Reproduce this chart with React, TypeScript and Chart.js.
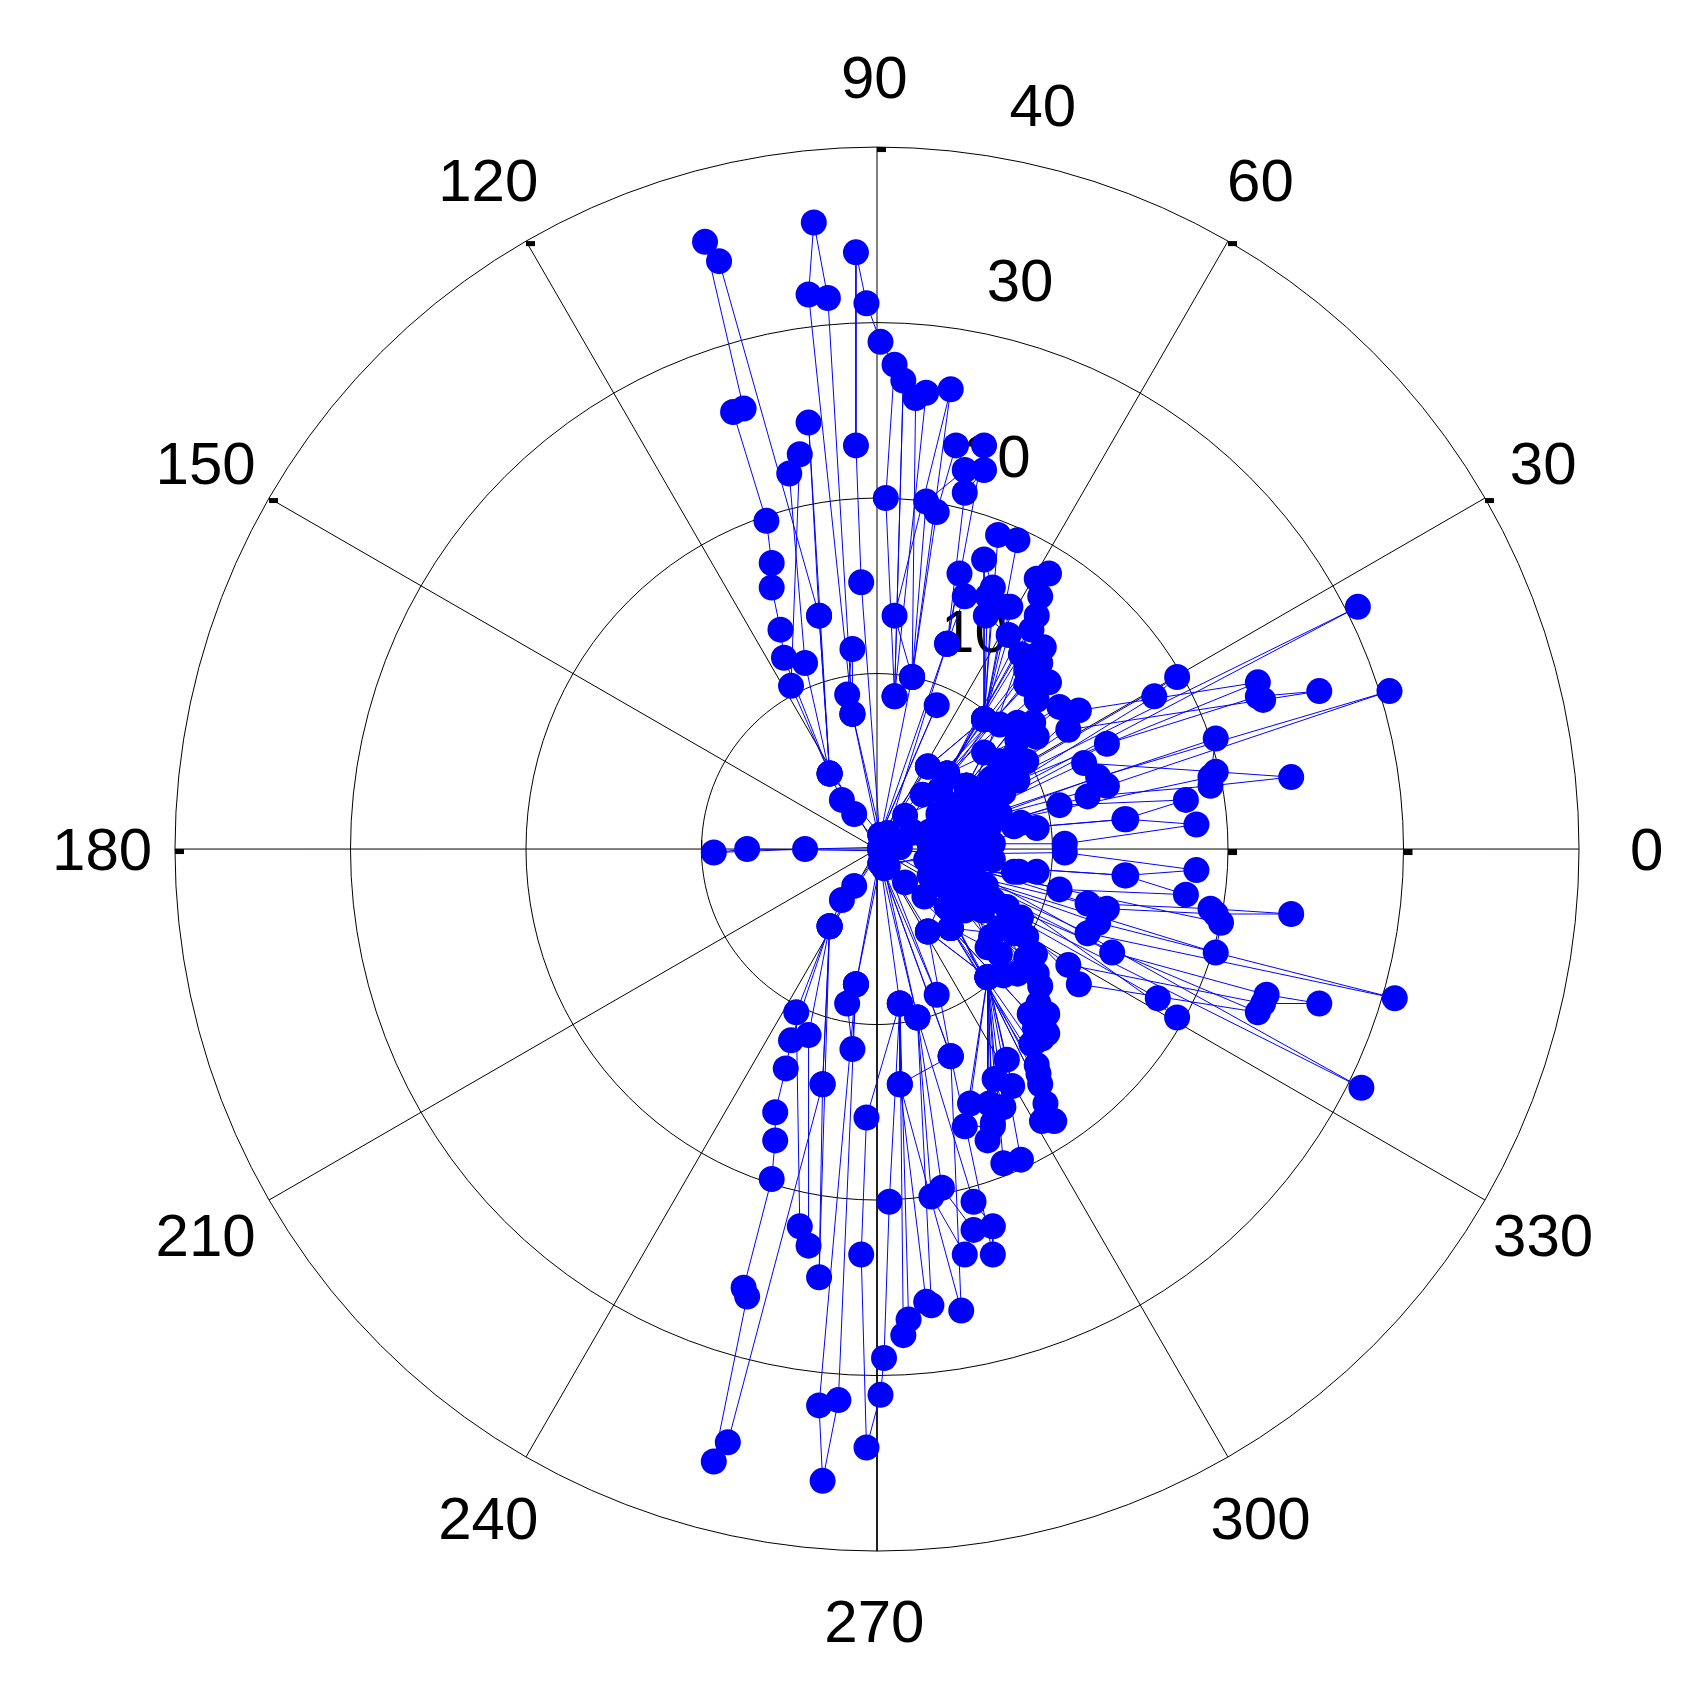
import React, { useEffect, useRef } from "react";
import { Chart, registerables } from "chart.js";

Chart.register(...registerables);

const ringRadii = [10, 20, 30, 40];
const spokeAngles = [0, 30, 60, 90, 120, 150, 180, 210, 240, 270, 300, 330];
const angleLabels = ["0", "30", "60", "90", "120", "150", "180", "210", "240", "270", "300", "330"];
const radialLabels = ["10", "20", "30", "40"];
const radialLabelX = [5.55, 6.85, 8.15, 9.45];
const radialLabelY = [12.15, 22.15, 32.15, 42.15];
const angleLabelRadius = 44;
const angleLabelShiftX = -0.15;
const angleLabelShiftY = -0.25;
const tickRadiiOnZero = [20, 30];
const tickAnglesOnOuter = [30, 60, 90, 120, 150, 180];

// East / north components of the plotted series, in radial units, in plotting order.
const rightUpper = [
  [0.2,0.1],[3.0,0.3],[10.7,0.3],[18.2,1.4],[14.2,1.7],[3.5,0.8],[14.1,1.7],[17.6,2.8],[10.4,2.5],[3.0,0.3],
  [12.0,3.0],[19.0,3.6],[23.6,4.1],[19.3,4.4],[11.8,4.9],[4.0,1.2],[13.1,3.6],[29.2,9.0],[12.6,4.1],[3.5,0.8],
  [19.0,4.1],[19.3,6.3],[4.0,1.2],[13.1,6.0],[21.7,8.7],[25.2,9.0],[22.0,8.5],[10.9,6.8],[4.5,2.5],
  [21.7,9.5],[11.5,7.9],[5.0,2.0],[27.4,13.8],[4.5,2.5],[17.1,9.8],[15.8,8.7],[5.0,2.0],
];
const clusterUpper = [
  [9.8,15.7],[9.1,15.4],[9.3,14.4],[3.6,3.4],[9.1,13.3],[8.8,12.5],[4.0,4.3],[8.2,11.1],[9.3,10.6],[3.6,3.4],
  [8.5,10.2],[9.8,9.5],[4.0,4.3],[8.5,9.4],[9.1,8.5],[5.1,3.6],[10.4,8.1],[8.9,7.2],[5.1,3.6],[9.1,6.4],[8.0,7.2],[5.1,3.6],
  [7.0,7.1],[6.1,7.4],[4.0,4.3],[8.0,6.2],[8.5,5.0],[5.1,3.6],[6.1,5.5],[7.8,5.3],[5.1,3.6],[8.0,3.9],[7.2,3.2],[5.1,3.6],
  [6.4,2.8],[5.9,2.2],[2.9,4.7],[4.0,4.3],[2.6,3.1],[3.6,3.4],[5.1,3.6],[1.6,1.9],[2.8,0.7],[4.3,1.5],
  [5.5,1.7],[6.4,1.3],[4.3,1.5],[7.8,1.3],[8.2,1.5],[4.3,1.5],[9.1,1.2],[4.5,0.0],[3.5,0.5],[5.2,0.0],[6.0,0.5],[6.6,0.3],[3.5,0.5],[1.3,0.1],[0.2,0.1],
  [0.6,0.9],[2.0,1.0],[3.0,1.0],[3.5,2.0],[4.5,2.5],[5.5,3.0],[6.5,4.0],[7.0,5.0],[7.5,4.5],[6.8,3.5],[7.0,2.0],[5.0,2.0],[5.0,1.0],[4.0,0.5],[0.6,0.1],
  [9.0,11.0],[9.5,11.5],[9.0,9.8],[0.2,0.8],
];
const steepUpper = [
  [3.4,8.2],[0.2,0.8],[2.9,4.7],[6.1,7.4],[6.9,17.9],[8.0,17.6],[6.1,7.4],[6.6,14.9],[6.1,16.5],[6.1,7.4],[7.4,13.8],[6.3,14.4],[6.1,7.4],
  [7.6,13.8],[6.2,13.3],[7.5,12.2],[6.1,7.4],[2.9,4.7],[0.6,0.9],[4.0,11.7],[4.7,15.7],[5.0,14.4],[4.0,11.7],
  [6.1,23.0],[6.1,21.6],[5.0,20.3],[4.0,11.7],[0.2,0.8],[2.0,9.8],[3.4,19.2],[4.5,23.0],[5.0,21.6],[2.8,19.8],[2.0,9.8],
  [4.2,26.2],[1.0,13.3],[2.0,9.8],[2.2,25.7],[2.8,26.0],[1.0,8.7],[1.5,26.7],[1.0,8.7],[0.5,20.0],[1.0,27.6],[0.2,28.9],
  [-0.6,31.1],[-1.2,34.0],[-1.2,23.0],[-0.9,15.2],[0.2,0.1],
];
const leftUpper = [
  [-1.4,7.7],[-3.9,31.6],[-3.6,35.7],[-2.8,31.4],[-1.4,7.7],[-1.4,11.4],[-1.7,8.8],[-1.4,7.7],[0.2,0.8],
  [-2.7,4.3],[-3.3,13.3],[-9.0,33.5],[-9.8,34.6],[-7.6,25.1],[-8.2,24.9],[-6.3,18.7],[-6.0,16.3],[-6.0,14.9],[-5.5,12.5],[-5.3,10.9],[-2.7,4.3],
  [-4.1,10.6],[-5.0,21.4],[-4.4,22.5],[-4.9,9.3],[-2.7,4.3],[-3.3,13.3],[-3.9,24.3],[-2.7,4.3],
  [-2.0,2.8],[-1.3,2.0],[0.2,0.1],[-4.1,0.0],[-9.3,-0.2],[-7.4,0.0],[0.2,-0.1],
];
const leftLower = [
  [-1.3,-2.1],[-2.0,-2.9],[-2.7,-4.4],[-4.6,-9.3],[-4.4,-21.5],[-3.9,-22.6],[-3.9,-10.6],[-2.7,-4.4],
  [-3.1,-13.4],[-3.3,-24.4],[-2.7,-4.4],[-3.1,-13.4],[-8.5,-33.8],[-9.3,-34.9],[-7.4,-25.5],[-7.6,-25.0],[-6.0,-18.8],[-5.8,-16.6],[-5.8,-15.0],[-5.2,-12.5],[-4.9,-10.9],[-2.7,-4.4],[0.2,-0.1],
  [-1.2,-7.7],[-3.3,-31.7],[-3.1,-36.0],[-2.2,-31.4],[-1.2,-7.7],[-1.4,-11.4],[-1.7,-8.8],[-1.2,-7.7],[0.2,-0.8],
];
const steepLower = [
  [1.3,-8.8],[-0.6,-15.3],[-0.9,-23.1],[-0.6,-34.1],[0.2,-31.1],[0.4,-29.0],[0.7,-20.1],[1.3,-8.8],
  [1.5,-27.7],[1.8,-26.8],[1.3,-8.8],[1.3,-13.4],[2.8,-25.8],[3.1,-26.0],[2.3,-9.6],[0.2,-0.8],
  [4.2,-11.8],[4.8,-26.3],[1.3,-13.4],[4.2,-11.8],[0.2,-0.8],[3.4,-8.3],[0.2,-0.1],
  [2.3,-9.6],[3.1,-19.8],[5.0,-23.1],[5.5,-21.7],[3.7,-19.3],[2.3,-9.6],[5.5,-20.1],[6.6,-21.5],[6.6,-23.1],[4.2,-11.8],
  [2.9,-4.7],[6.3,-7.3],[7.2,-17.9],[8.2,-17.7],[6.3,-7.3],[5.0,-15.8],[6.6,-15.8],[6.3,-7.3],[6.3,-16.6],[6.6,-15.6],[6.3,-7.3],
  [5.3,-14.5],[6.4,-14.5],[6.3,-7.3],[7.2,-14.7],[6.7,-13.1],[6.3,-7.3],[7.7,-13.5],[7.4,-12.0],[6.3,-7.3],[2.9,-4.7],[0.6,-1.0],
];
const clusterLower = [
  [4.0,-3.3],[10.1,-15.5],[9.4,-15.5],[9.6,-14.5],[4.0,-3.3],[9.3,-13.4],[9.1,-12.3],[4.2,-4.5],[8.8,-11.1],[9.7,-10.5],[4.2,-4.5],
  [8.7,-9.4],[9.7,-9.4],[5.1,-2.3],[9.3,-7.8],[9.1,-7.1],[5.1,-2.3],[8.0,-7.1],[7.2,-7.2],[5.1,-2.3],[6.3,-5.6],[4.2,-4.5],
  [8.5,-5.0],[7.8,-4.8],[5.1,-2.3],[8.2,-3.9],[7.4,-3.3],[5.1,-2.3],[6.6,-2.9],[5.9,-3.3],[5.1,-2.3],[6.2,-2.1],[4.3,-1.4],
  [2.9,-4.7],[4.2,-4.5],[2.7,-2.7],[4.0,-3.3],[1.6,-1.9],[0.4,-1.1],[0.2,-0.8],[2.8,-0.6],[4.3,-1.4],
  [8.1,-1.3],[9.1,-1.3],[4.3,-1.4],[7.8,-1.3],[5.9,-0.6],[6.6,-0.6],[4.5,-0.2],[0.6,-0.1],
  [3.0,-1.5],[3.5,-2.0],[4.5,-2.0],[5.0,-1.0],[5.5,-1.5],[6.0,-3.5],[7.0,-4.5],[6.5,-5.0],[7.0,-6.0],[5.0,-3.5],[8.5,-6.2],[9.0,-6.0],[9.2,-8.8],[9.0,-10.2],[9.4,-10.8],[9.0,-11.0],[9.2,-12.8],[4.2,-4.5],[0.6,-1.0],
];
const rightLower = [
  [3.0,-0.3],[10.7,-0.2],[18.2,-1.2],[14.2,-1.5],[3.5,-0.8],[14.1,-1.5],[17.6,-2.6],[10.4,-2.3],[3.0,-0.3],
  [12.0,-3.1],[19.0,-3.4],[23.6,-3.7],[19.3,-3.7],[13.1,-3.4],[4.0,-1.2],[12.6,-4.2],[29.5,-8.5],[12.0,-4.8],[3.5,-0.8],
  [19.6,-4.2],[19.3,-5.9],[4.0,-1.2],[13.4,-5.9],[22.2,-8.3],[25.2,-8.8],[22.0,-8.8],[10.9,-6.6],[4.5,-2.0],
  [21.7,-9.3],[11.5,-7.7],[5.0,-1.0],[27.6,-13.6],[4.5,-2.0],[16.0,-8.5],[17.1,-9.6],[5.0,-1.0],
];

const seriesPoints = [
  ...rightUpper, ...clusterUpper, ...steepUpper, ...leftUpper,
  ...leftLower, ...steepLower, ...clusterLower, ...rightLower,
];

const BLUE = "#0000ff";
const FONT = '60px "Liberation Sans", Arial, sans-serif';

const rad = (deg: number) => (deg * Math.PI) / 180;

const polarDecor = {
  id: "polarDecor",
  beforeDatasetsDraw(chart: any) {
    const { ctx, scales } = chart;
    const X = (v: number) => scales.x.getPixelForValue(v);
    const Y = (v: number) => scales.y.getPixelForValue(v);
    ctx.save();
    ctx.fillStyle = "#000";
    ctx.font = FONT;
    ctx.textAlign = "center";
    ctx.textBaseline = "middle";
    spokeAngles.forEach((a, i) => {
      ctx.fillText(
        angleLabels[i],
        X(angleLabelRadius * Math.cos(rad(a)) + angleLabelShiftX),
        Y(angleLabelRadius * Math.sin(rad(a)) + angleLabelShiftY)
      );
    });
    radialLabels.forEach((t, i) => ctx.fillText(t, X(radialLabelX[i]), Y(radialLabelY[i])));
    tickRadiiOnZero.forEach((r) => ctx.fillRect(X(r), Y(0), 9, 6));
    tickAnglesOnOuter.forEach((a) => {
      ctx.fillRect(X(40 * Math.cos(rad(a))), Y(40 * Math.sin(rad(a))), 9, 5);
    });
    ctx.restore();
  },
};

export default function App() {
  const ref = useRef<HTMLCanvasElement>(null);
  useEffect(() => {
    if (!ref.current) return;
    const ringSets = ringRadii.map((r) => ({
      type: "scatter" as const,
      data: Array.from({ length: 121 }, (_, i) => ({
        x: r * Math.cos(rad(i * 3)),
        y: r * Math.sin(rad(i * 3)),
      })),
      showLine: true,
      borderColor: "#000",
      borderWidth: 1,
      pointRadius: 0,
      order: 3,
    }));
    const spokeSets = spokeAngles.map((a) => ({
      type: "scatter" as const,
      data: [
        { x: 0, y: 0 },
        { x: 40 * Math.cos(rad(a)), y: 40 * Math.sin(rad(a)) },
      ],
      showLine: true,
      borderColor: "#000",
      borderWidth: 1,
      pointRadius: 0,
      order: 3,
    }));
    const chart = new Chart(ref.current, {
      type: "scatter",
      data: {
        datasets: [
          {
            data: seriesPoints.map(([x, y]) => ({ x, y })),
            showLine: true,
            borderColor: BLUE,
            borderWidth: 1,
            backgroundColor: BLUE,
            pointBackgroundColor: BLUE,
            pointBorderWidth: 0,
            pointRadius: 13,
            pointHoverRadius: 13,
            order: 1,
          },
          ...ringSets,
          ...spokeSets,
        ],
      } as any,
      options: {
        animation: false,
        responsive: false,
        maintainAspectRatio: false,
        layout: { padding: 0, autoPadding: false },
        plugins: { legend: { display: false }, tooltip: { enabled: false } },
        elements: { line: { tension: 0 } },
        scales: {
          x: { type: "linear", display: false, min: -49.97, max: 46.95 },
          y: { type: "linear", display: false, min: -48.26, max: 48.38 },
        },
      },
      plugins: [polarDecor],
    });
    return () => chart.destroy();
  }, []);
  return (
    <canvas
      ref={ref}
      width={1701}
      height={1696}
      style={{ position: "absolute", left: 0, top: 0, display: "block", background: "#fff" }}
    />
  );
}
